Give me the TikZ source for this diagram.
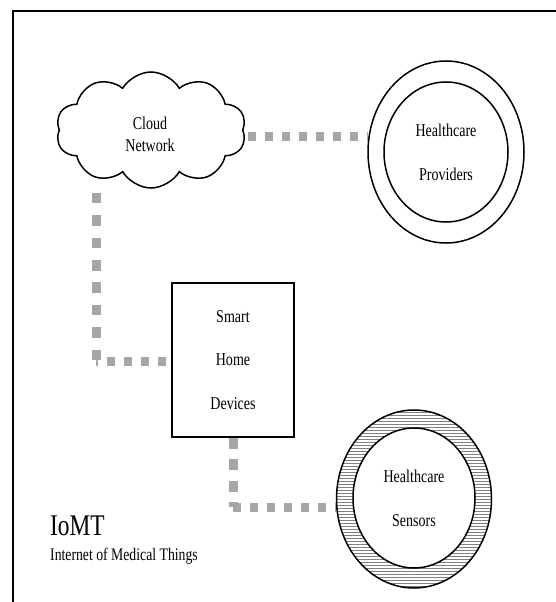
\documentclass[tikz,border=0pt]{standalone}
\usepackage{fontspec}
\setmainfont{Liberation Serif}
\newfontfamily\tallserif[FakeStretch=0.78]{Liberation Serif}
\usetikzlibrary{shapes.symbols,shapes.geometric,patterns}
\definecolor{conngray}{RGB}{166,166,166}
\begin{document}
\begin{tikzpicture}[x=1pt,y=-1pt,
  lbl/.style={font=\tallserif\fontsize{18}{44}\selectfont, align=center},
  ring/.style={draw, ellipse, line width=1.5pt, inner sep=0pt},
  conn/.style={draw=conngray, line width=9pt},
  hdash/.style={conn, dash pattern=on 8pt off 9pt},
  vdash/.style={conn, dash pattern=on 10.7pt off 11.7pt},
]
\useasboundingbox (0,0) rectangle (556,602);
% frame
\draw[line width=1.5pt] (13,606) -- (13,11) -- (560,11);

% cloud
\node[cloud, draw, line width=1.5pt, cloud puffs=10, cloud puff arc=120, aspect=1.7,
      minimum width=190pt, minimum height=116pt, inner sep=0pt] (cloud) at (151,130) {};
\node[lbl, font=\tallserif\fontsize{18}{22}\selectfont] (cloudtxt) at (150,134) {Cloud\\Network};

% healthcare providers
\node[ring, minimum width=156pt, minimum height=182pt] (prov) at (446,152) {};
\node[ring, minimum width=124pt, minimum height=140pt, lbl] (provin) at (446,152) {Healthcare\\Providers};

% smart home devices
\node[draw, line width=1.5pt, minimum width=122pt, minimum height=154pt, inner sep=0pt, lbl,
      font=\tallserif\fontsize{18}{43.5}\selectfont] (box) at (233,360) {Smart\\Home\\Devices};

% healthcare sensors
\fill[pattern=horizontal lines, pattern color=gray, even odd rule]
  (414,499) ellipse (77.5 and 89) (414,498) ellipse (61 and 70);
\node[ring, minimum width=155pt, minimum height=178pt] (sens) at (414,499) {};
\node[ring, minimum width=122pt, minimum height=140pt, lbl] (sensin) at (414,498) {Healthcare\\Sensors};

% connectors
\coordinate (t1) at (248,136);
\draw[hdash] (t1) -- (t1 -| prov.west);

\coordinate (l1) at (96,192.7);
\coordinate (l2) at (96,361);
\draw[vdash] (l1) -- (l2);
\draw[hdash, dash phase=6pt] (l2) -- (l2 -| box.west);

\coordinate (b1) at (233,507);
\draw[conn, dash pattern=on 11pt off 10.5pt] (box.south) -- (b1);
\draw[hdash] (b1) -- (b1 -| sens.west);

% title
\node[anchor=base west, inner sep=0pt, font=\tallserif\fontsize{30}{32}\selectfont] (title) at (50,535) {IoMT};
\node[anchor=base west, inner sep=0pt, font=\tallserif\fontsize{17.6}{20}\selectfont] (subtitle) at (50,560) {Internet of Medical Things};
\end{tikzpicture}
\end{document}
